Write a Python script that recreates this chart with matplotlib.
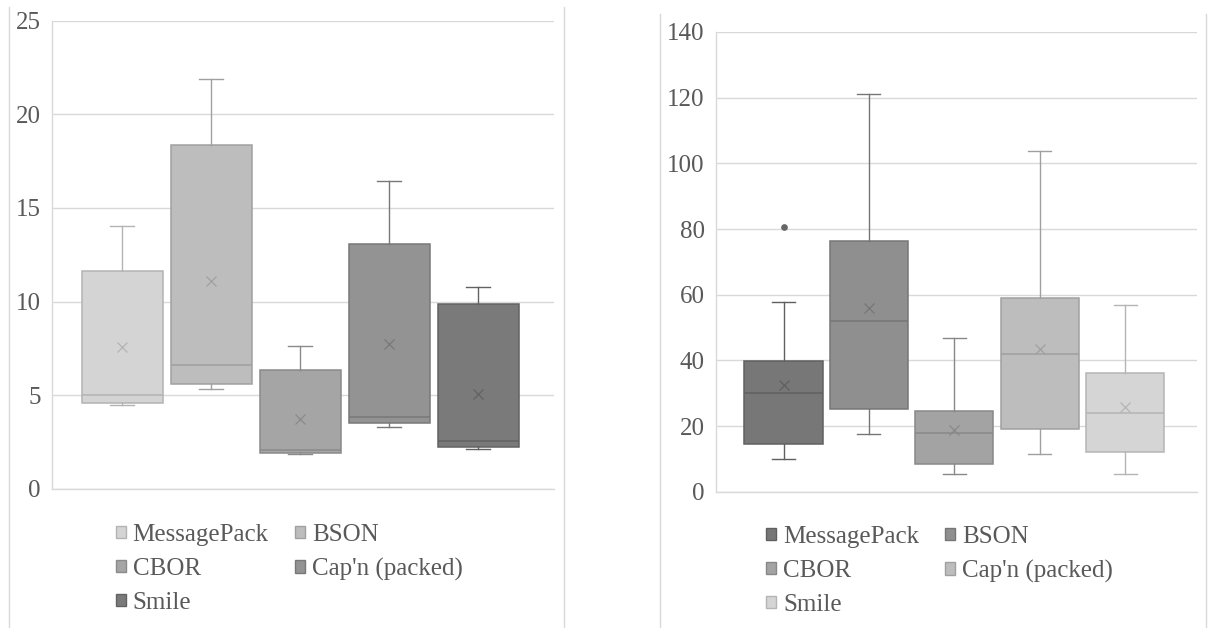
import matplotlib
matplotlib.use("Agg")
import matplotlib.pyplot as plt
from matplotlib.patches import Patch
from matplotlib.lines import Line2D

# ---- data ----
formats = ["MessagePack", "BSON", "CBOR", "Cap'n (packed)", "Smile"]

# left chart
left_whislo = [4.45, 5.31, 1.85, 3.28, 2.14]
left_q1 = [4.56, 5.60, 1.89, 3.49, 2.21]
left_med = [4.99, 6.63, 2.07, 3.83, 2.55]
left_q3 = [11.64, 18.36, 6.36, 13.06, 9.86]
left_whishi = [14.05, 21.90, 7.63, 16.43, 10.75]
left_mean = [7.55, 11.09, 3.74, 7.72, 5.08]
left_fliers = [[], [], [], [], []]
left_ticks = [0, 5, 10, 15, 20, 25]

# right chart
right_whislo = [9.9, 17.7, 5.3, 11.6, 5.4]
right_q1 = [14.6, 25.1, 8.4, 19.2, 12.0]
right_med = [30.0, 52.1, 17.8, 41.9, 24.0]
right_q3 = [39.9, 76.5, 24.5, 58.9, 36.2]
right_whishi = [57.9, 121.2, 46.9, 103.9, 57.0]
right_mean = [32.5, 56.0, 18.7, 43.5, 25.9]
right_fliers = [[80.7], [], [], [], []]
right_ticks = [0, 20, 40, 60, 80, 100, 120, 140]

left_fill = ["#d4d4d4", "#bdbdbd", "#a5a5a5", "#939393", "#7a7a7a"]
left_edge = ["#b3b3b3", "#a0a0a0", "#8a8a8a", "#787878", "#626262"]
right_fill = ["#777777", "#8f8f8f", "#a3a3a3", "#bdbdbd", "#d5d5d5"]
right_edge = ["#606060", "#767676", "#888888", "#a0a0a0", "#b5b5b5"]

TXT = "#595959"
GRID = "#d9d9d9"
FS = 18

plt.rcParams['font.family'] = ['Liberation Serif', 'DejaVu Serif']

W, H = 1208, 628
fig = plt.figure(figsize=(W / 100, H / 100), dpi=100)


def px_rect(x0, y0, x1, y1):
    return [x0 / W, 1 - y1 / H, (x1 - x0) / W, (y1 - y0) / H]


def draw(ax, whislo, q1, med, q3, whishi, mean, fliers, fills, edges,
         ticks, ylim, xlim, width, capw):
    stats = []
    for i in range(len(formats)):
        stats.append(dict(whislo=whislo[i], q1=q1[i], med=med[i], q3=q3[i],
                          whishi=whishi[i], mean=mean[i], fliers=fliers[i],
                          label=formats[i]))
    for i, s in enumerate(stats):
        ax.bxp([s], positions=[i], widths=width, patch_artist=True,
               showmeans=True, capwidths=capw,
               boxprops=dict(facecolor=fills[i], edgecolor=edges[i], linewidth=1.1),
               medianprops=dict(color=edges[i], linewidth=1.1),
               whiskerprops=dict(color=edges[i], linewidth=1.0),
               capprops=dict(color=edges[i], linewidth=1.0),
               meanprops=dict(marker='x', markeredgecolor=edges[i],
                              markersize=7.5, markeredgewidth=0.9),
               flierprops=dict(marker='o', markerfacecolor="#666666",
                               markeredgecolor="#666666", markersize=3.8),
               zorder=3)
    ax.set_ylim(*ylim)
    ax.set_xlim(*xlim)
    ax.set_yticks(ticks)
    ax.set_yticklabels([str(t) for t in ticks])
    ax.set_xticks([])
    ax.yaxis.grid(True, color=GRID, linewidth=1.0, zorder=0)
    ax.set_axisbelow(True)
    for sp in ["top", "right"]:
        ax.spines[sp].set_visible(False)
    for sp in ["left", "bottom"]:
        ax.spines[sp].set_color(GRID)
        ax.spines[sp].set_linewidth(1.0)
    ax.tick_params(axis='y', length=0, pad=8, labelsize=FS, labelcolor=TXT)


axL = fig.add_axes(px_rect(51.7, 20.7, 554.3, 488.7))
draw(axL, left_whislo, left_q1, left_med, left_q3, left_whishi, left_mean,
     left_fliers, left_fill, left_edge, left_ticks, (0, 25), (-0.792, 4.855),
     0.91, 0.27)

axR = fig.add_axes(px_rect(715.7, 32, 1196.7, 491.7))
draw(axR, right_whislo, right_q1, right_med, right_q3, right_whishi, right_mean,
     right_fliers, right_fill, right_edge, right_ticks, (0, 140), (-0.794, 4.838),
     0.916, 0.27)

# legends (row-major order)
order = [0, 2, 4, 1, 3]


def add_legend(fills, edges, x, y):
    handles = [Patch(facecolor=fills[i], edgecolor=edges[i], linewidth=1.0,
                     label=formats[i]) for i in order]
    fig.legend(handles=handles, loc='upper left',
               bbox_to_anchor=(x / W, 1 - y / H), ncol=2, frameon=False,
               fontsize=FS, labelcolor=TXT, handlelength=0.4, handleheight=0.4,
               handletextpad=0.28, columnspacing=1.05, labelspacing=0.48,
               borderpad=0, borderaxespad=0)


add_legend(left_fill, left_edge, 115.7, 524)
add_legend(right_fill, right_edge, 766, 526)

# panel borders
for x, y0 in [(8.7, 7), (564.3, 7), (660.3, 14), (1206, 14)]:
    fig.add_artist(Line2D([x / W, x / W], [0, 1 - y0 / H], color=GRID,
                          linewidth=1.0, transform=fig.transFigure))

fig.savefig("out.png", dpi=100)
